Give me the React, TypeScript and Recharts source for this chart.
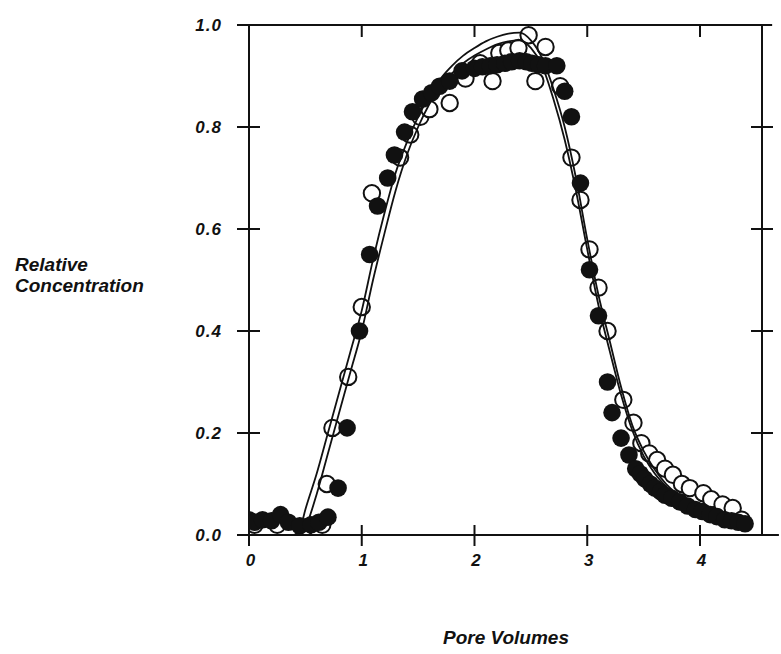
import React from "react";
import {
  ComposedChart,
  Scatter,
  Line,
  XAxis,
  YAxis,
  ReferenceLine,
} from "recharts";

// Measured (filled) concentrations: [pore volumes, relative concentration]
const filledSeries: [number, number][] = [
  [0.0, 0.03], [0.05, 0.025], [0.12, 0.03], [0.2, 0.028], [0.28, 0.04],
  [0.35, 0.025], [0.45, 0.018], [0.55, 0.02], [0.62, 0.025], [0.7, 0.035],
  [0.79, 0.092], [0.87, 0.21], [0.98, 0.4], [1.07, 0.55], [1.14, 0.645],
  [1.23, 0.7], [1.29, 0.745], [1.38, 0.79], [1.45, 0.83], [1.54, 0.855],
  [1.62, 0.867], [1.69, 0.88], [1.78, 0.89], [1.89, 0.91], [2.0, 0.915],
  [2.07, 0.918], [2.14, 0.92], [2.2, 0.922], [2.27, 0.925], [2.33, 0.928],
  [2.4, 0.93], [2.46, 0.928], [2.51, 0.925], [2.57, 0.922], [2.63, 0.92],
  [2.73, 0.92], [2.8, 0.87], [2.86, 0.82], [2.94, 0.69], [3.02, 0.52],
  [3.1, 0.43], [3.18, 0.3], [3.22, 0.24], [3.3, 0.19], [3.37, 0.157],
  [3.43, 0.13], [3.47, 0.12], [3.51, 0.11], [3.56, 0.1], [3.6, 0.092],
  [3.65, 0.085], [3.69, 0.078], [3.75, 0.072], [3.82, 0.065], [3.89, 0.057],
  [3.96, 0.05], [4.02, 0.046], [4.09, 0.04], [4.15, 0.036], [4.22, 0.03],
  [4.28, 0.028], [4.34, 0.025], [4.4, 0.022],
];

// Measured (open) concentrations
const openSeries: [number, number][] = [
  [0.05, 0.02], [0.25, 0.02], [0.5, 0.015], [0.65, 0.02],
  [0.69, 0.1], [0.74, 0.21], [0.88, 0.31], [1.0, 0.447], [1.09, 0.67],
  [1.34, 0.74], [1.43, 0.785], [1.52, 0.82], [1.6, 0.835], [1.78, 0.847],
  [1.92, 0.895], [2.05, 0.925], [2.16, 0.89], [2.22, 0.945], [2.3, 0.95],
  [2.39, 0.955], [2.48, 0.98], [2.54, 0.89], [2.63, 0.957], [2.76, 0.88],
  [2.86, 0.74], [2.94, 0.657], [3.02, 0.56], [3.1, 0.485], [3.18, 0.4],
  [3.32, 0.265], [3.41, 0.22], [3.48, 0.18], [3.55, 0.16], [3.62, 0.147],
  [3.69, 0.13], [3.76, 0.118], [3.84, 0.1], [3.91, 0.092], [4.03, 0.082],
  [4.1, 0.07], [4.2, 0.06], [4.29, 0.053], [4.37, 0.03],
];

// Model curve A (outer)
const curveA: [number, number][] = [
  [0.4, 0], [0.45, 0.01], [0.5, 0.05], [0.6, 0.12], [0.7, 0.2], [0.8, 0.28],
  [0.9, 0.36], [1.0, 0.44], [1.1, 0.54], [1.2, 0.63], [1.3, 0.71], [1.4, 0.77],
  [1.5, 0.82], [1.6, 0.86], [1.7, 0.895], [1.8, 0.92], [1.9, 0.94], [2.0, 0.955],
  [2.1, 0.968], [2.2, 0.977], [2.3, 0.983], [2.4, 0.985], [2.5, 0.97], [2.6, 0.935],
  [2.7, 0.875], [2.8, 0.8], [2.9, 0.7], [3.0, 0.58], [3.1, 0.47], [3.2, 0.38],
  [3.3, 0.29], [3.4, 0.215], [3.5, 0.165], [3.6, 0.128], [3.7, 0.1], [3.8, 0.08],
  [3.9, 0.065], [4.0, 0.053], [4.1, 0.044], [4.2, 0.037], [4.3, 0.031], [4.4, 0.026],
];

// Model curve B (inner)
const curveB: [number, number][] = [
  [0.45, 0], [0.5, 0.015], [0.6, 0.08], [0.7, 0.16], [0.8, 0.24], [0.9, 0.32],
  [1.0, 0.4], [1.1, 0.5], [1.2, 0.59], [1.3, 0.675], [1.4, 0.745], [1.5, 0.8],
  [1.6, 0.845], [1.7, 0.88], [1.8, 0.905], [1.9, 0.925], [2.0, 0.94], [2.1, 0.952],
  [2.2, 0.962], [2.3, 0.968], [2.4, 0.97], [2.5, 0.955], [2.6, 0.92], [2.7, 0.855],
  [2.8, 0.775], [2.9, 0.675], [3.0, 0.56], [3.1, 0.45], [3.2, 0.36], [3.3, 0.275],
  [3.4, 0.205], [3.5, 0.155], [3.6, 0.12], [3.7, 0.095], [3.8, 0.076], [3.9, 0.062],
  [4.0, 0.05], [4.1, 0.042], [4.2, 0.035], [4.3, 0.029], [4.4, 0.024],
];

const xTicks = [0, 1, 2, 3, 4];
const xTopTicks = [1, 2, 3, 4];
const yTicks = [0, 0.2, 0.4, 0.6, 0.8, 1.0];
const yRightTicks = [0.2, 0.4, 0.6, 0.8];
const xDomain: [number, number] = [0, 4.55];
const yDomain: [number, number] = [0, 1];

const toPts = (arr: [number, number][]) => arr.map(([x, y]) => ({ x, y }));

const INK = "#111";
const FONT = "'Liberation Sans', Arial, Helvetica, sans-serif";

const tickText = {
  fontFamily: FONT,
  fontStyle: "italic" as const,
  fontWeight: 700,
  fontSize: 17,
  fill: INK,
  letterSpacing: 1,
};

const BottomTick = (p: any) => (
  <g>
    <line x1={p.x} x2={p.x} y1={p.y - 10} y2={p.y + 11} stroke={INK} strokeWidth={2} />
    <text x={p.x + 2} y={p.y + 31} textAnchor="middle" {...tickText}>
      {p.payload.value}
    </text>
  </g>
);

const TopTick = (p: any) => (
  <line x1={p.x} x2={p.x} y1={p.y} y2={p.y + 12} stroke={INK} strokeWidth={2} />
);

const LeftTick = (p: any) => (
  <g>
    <line x1={p.x - 12} x2={p.x + 11} y1={p.y} y2={p.y} stroke={INK} strokeWidth={2} />
    <text x={p.x - 27} y={p.y + 6} textAnchor="end" {...tickText}>
      {Number(p.payload.value).toFixed(1)}
    </text>
  </g>
);

const RightTick = (p: any) => (
  <line x1={p.x - 11} x2={p.x + 11} y1={p.y} y2={p.y} stroke={INK} strokeWidth={2} />
);

const FilledDot = (p: any) => <circle cx={p.cx} cy={p.cy} r={8.8} fill={INK} />;
const OpenDot = (p: any) => (
  <circle cx={p.cx} cy={p.cy} r={8.2} fill="#fff" stroke={INK} strokeWidth={2} />
);

const titleStyle: React.CSSProperties = {
  position: "absolute",
  fontFamily: FONT,
  fontStyle: "italic",
  fontWeight: 700,
  fontSize: 19,
  color: INK,
  lineHeight: "21px",
  whiteSpace: "nowrap",
};

export default function App() {
  return (
    <div style={{ position: "absolute", left: 0, top: 0, width: 781, height: 654, background: "#fff" }}>
      <ComposedChart
        width={781}
        height={654}
        margin={{ top: 15, right: 9, bottom: 89, left: 189 }}
      >
        <XAxis
          xAxisId="bottom"
          type="number"
          dataKey="x"
          domain={xDomain}
          ticks={xTicks}
          allowDataOverflow
          height={30}
          tickSize={0}
          tickMargin={0}
          tickLine={false}
          axisLine={{ stroke: INK, strokeWidth: 2 }}
          tick={BottomTick}
        />
        <XAxis
          xAxisId="top"
          orientation="top"
          type="number"
          dataKey="x"
          domain={xDomain}
          ticks={xTopTicks}
          allowDataOverflow
          height={10}
          tickSize={0}
          tickMargin={0}
          tickLine={false}
          axisLine={{ stroke: INK, strokeWidth: 2 }}
          tick={TopTick}
        />
        <YAxis
          yAxisId="left"
          type="number"
          dataKey="y"
          domain={yDomain}
          ticks={yTicks}
          allowDataOverflow
          width={60}
          tickSize={0}
          tickMargin={0}
          tickLine={false}
          axisLine={{ stroke: INK, strokeWidth: 2 }}
          tick={LeftTick}
        />
        <YAxis
          yAxisId="right"
          orientation="right"
          type="number"
          dataKey="y"
          domain={yDomain}
          ticks={yRightTicks}
          allowDataOverflow
          width={10}
          tickSize={0}
          tickMargin={0}
          tickLine={false}
          axisLine={{ stroke: INK, strokeWidth: 2 }}
          tick={RightTick}
        />
        <ReferenceLine
          xAxisId="bottom"
          yAxisId="left"
          segment={[{ x: -0.1, y: 0 }, { x: 4.7, y: 0 }]}
          stroke={INK}
          strokeWidth={2}
          ifOverflow="visible"
        />
        <ReferenceLine
          xAxisId="bottom"
          yAxisId="left"
          segment={[{ x: -0.1, y: 1 }, { x: 4.64, y: 1 }]}
          stroke={INK}
          strokeWidth={2}
          ifOverflow="visible"
        />
        <Scatter
          xAxisId="bottom"
          yAxisId="left"
          data={toPts(openSeries)}
          dataKey="y"
          shape={OpenDot}
          isAnimationActive={false}
          zIndex={350}
        />
        <Line
          xAxisId="bottom"
          yAxisId="left"
          data={toPts(curveA)}
          dataKey="y"
          type="monotone"
          stroke={INK}
          strokeWidth={1.8}
          dot={false}
          activeDot={false}
          isAnimationActive={false}
        />
        <Line
          xAxisId="bottom"
          yAxisId="left"
          data={toPts(curveB)}
          dataKey="y"
          type="monotone"
          stroke={INK}
          strokeWidth={1.8}
          dot={false}
          activeDot={false}
          isAnimationActive={false}
        />
        <Scatter
          xAxisId="bottom"
          yAxisId="left"
          data={toPts(filledSeries)}
          dataKey="y"
          shape={FilledDot}
          isAnimationActive={false}
        />
      </ComposedChart>
      <div style={{ ...titleStyle, left: 15, top: 254 }}>
        Relative
        <br />
        Concentration
      </div>
      <div style={{ ...titleStyle, left: 443, top: 627 }}>Pore Volumes</div>
    </div>
  );
}
